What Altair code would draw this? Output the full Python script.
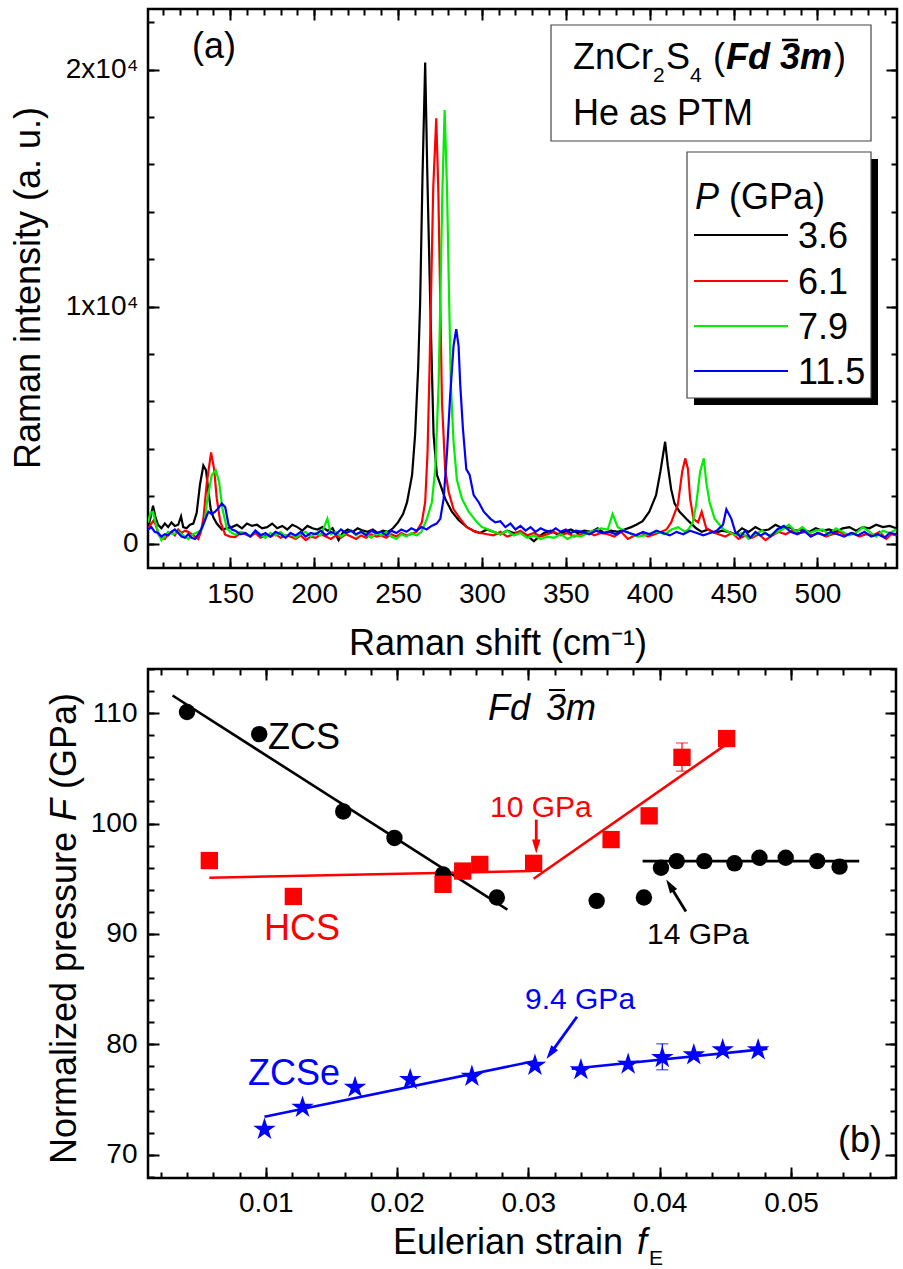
import altair as alt
import pandas as pd

FONT = "Liberation Sans"

# ---------------- panel (a): Raman spectra ----------------
P_LABELS = ["3.6", "6.1", "7.9", "11.5"]
P_COLORS = ["#000000", "#ff0000", "#00ee00", "#0000ff"]

spec_36 = [(101, 700), (102.5, 1100), (104, 1600), (105.5, 1100), (107, 800), (109, 650), (111, 850),
           (113, 700), (115, 900), (117, 750), (119, 800), (120.7, 1150), (122, 700), (124, 650),
           (126, 800), (128, 850), (130, 1300), (132, 2500), (134, 3300), (135.6, 3100), (137, 2200),
           (138.4, 1450), (140, 1100), (142, 850), (145, 600), (148, 650), (151, 700), (154, 800),
           (157, 650), (160, 850), (163, 750), (166, 800), (169, 650), (172, 700), (175, 850),
           (178, 650), (181, 750), (184, 600), (187, 800), (190, 700), (193, 550), (196, 750),
           (199, 650), (202, 600), (205, 700), (208, 550), (211, 650), (214.6, 150), (217, 450),
           (220, 600), (223, 500), (226, 650), (229, 550), (232, 500), (235, 600), (238, 450),
           (241, 550), (244, 500), (247, 650), (250, 900), (253, 1250), (255.4, 1750), (258.4, 2900),
           (260.2, 4600), (262, 7400), (263.2, 10200), (264.6, 15500), (266.2, 20300), (267.5, 15500),
           (269.2, 10200), (271.2, 4600), (273.2, 2900), (275.2, 2500), (278.1, 1900), (282.1, 1350),
           (286.1, 1000), (291, 700), (295, 550), (299, 450), (303, 600), (307, 500), (311, 400),
           (315, 550), (319, 450), (323, 500), (327, 350), (331, 100), (334, 300), (337, 450),
           (341, 550), (345, 400), (349, 500), (353, 600), (357, 450), (361, 550), (365, 500),
           (369, 650), (373, 450), (377, 550), (381, 500), (385, 600), (389, 700), (392, 800),
           (395.8, 950), (399.8, 1350), (403.8, 2050), (406.4, 3050), (409.2, 4300), (410.8, 3300),
           (412.8, 2300), (414.8, 1700), (417.8, 1350), (421.8, 1050), (424, 900), (427.7, 650),
           (431, 500), (435, 600), (439, 450), (443, 550), (447, 500), (451, 400), (455, 650),
           (459, 500), (463, 700), (467, 550), (471, 600), (475, 800), (479, 650), (483, 700),
           (487, 550), (491, 600), (495, 500), (499, 650), (503, 550), (507, 600), (511, 500),
           (515, 650), (519, 700), (523, 550), (527, 700), (531, 650), (535, 800), (539, 700),
           (543, 750), (547, 650)]

spec_61 = [(101, 600), (102.5, 800), (104.5, 1000), (106, 700), (107.5, 350), (109, 250), (111, 200),
           (113, 400), (115, 500), (117, 350), (119, 600), (121, 450), (123, 550), (125, 500),
           (127, 400), (129, 300), (131, 200), (132.5, 500), (134, 1050), (136.1, 2600), (138.6, 3850),
           (140.4, 3150), (142, 1900), (144, 950), (147, 380), (150, 300), (153, 280), (156, 450),
           (159, 400), (162, 300), (165, 450), (168, 250), (171, 350), (174, 300), (177, 400),
           (180, 250), (183, 350), (186, 300), (189, 200), (192, 350), (195, 150), (198, 300),
           (201, 250), (204, 400), (207, 300), (210, 200), (213, 350), (216, 250), (219, 400),
           (222, 300), (225, 200), (228, 350), (231, 250), (234, 400), (237, 300), (240, 350),
           (243, 250), (246, 400), (249, 300), (252, 450), (255, 350), (258, 400), (261, 500),
           (264.2, 900), (266.2, 1750), (267.6, 3850), (268.8, 7400), (269.6, 10200), (271, 15000),
           (272.8, 17950), (274, 15000), (275.2, 10200), (276.2, 6000), (278.1, 3150), (280.1, 2200),
           (283.1, 1450), (287.1, 1050), (291, 700), (293.1, 620), (296, 500), (299.1, 450),
           (303, 400), (307, 350), (311, 500), (315, 300), (319, 400), (323, 550), (327, 350),
           (331, 450), (335, 300), (339, 400), (343, 500), (347, 350), (351, 450), (355, 300),
           (359, 400), (363, 500), (367, 350), (371, 450), (375, 400), (379, 300), (383, 500),
           (387, 200), (391, 350), (395, 450), (399, 300), (403, 400), (407, 500), (410, 600),
           (412.8, 900), (416.8, 1650), (419.4, 3050), (421.2, 3600), (422.8, 3150), (424.1, 1900),
           (426.1, 1050), (428.8, 900), (431, 1350), (433.7, 650), (437, 500), (441, 400),
           (445, 300), (449, 450), (453, 200), (457, 350), (461, 250), (465, 400), (469, 150),
           (473, 350), (477, 500), (481, 400), (485, 550), (489, 450), (493, 500), (497, 350),
           (501, 450), (505, 300), (509, 400), (513, 500), (517, 350), (521, 450), (525, 300),
           (529, 400), (533, 350), (537, 500), (541, 200), (544, 400), (547, 350)]

spec_79 = [(101, 900), (102.5, 1300), (104, 1350), (105.5, 900), (107, 500), (109, 150), (111, 300),
           (113, 500), (116, 400), (119, 500), (122, 350), (125, 200), (128, 400), (131, 500),
           (133, 600), (135, 1000), (136.1, 1750), (138, 2500), (139, 2900), (141.4, 3100),
           (143.4, 2600), (145.4, 1450), (148, 650), (150, 500), (153, 380), (156, 500), (159, 450),
           (162, 300), (165, 550), (168, 400), (171, 250), (174, 450), (177, 350), (180, 500),
           (183, 300), (186, 450), (189, 250), (192, 400), (195, 500), (198, 300), (201, 450),
           (204, 350), (207.9, 1050), (210, 400), (213, 500), (216, 300), (219, 450), (222, 550),
           (225, 350), (228, 500), (231, 400), (234, 250), (237, 450), (240, 350), (243, 500),
           (246, 300), (249, 200), (252, 400), (255, 300), (258, 450), (261, 350), (264, 500),
           (267.2, 1050), (270.2, 1750), (272.2, 3150), (274.2, 6700), (275.2, 10200), (276.5, 15000),
           (277.8, 18300), (279.2, 15000), (280.5, 10200), (281.5, 6700), (283.1, 4300), (285.1, 2700),
           (288.1, 1900), (292.1, 1350), (297.1, 900), (300, 700), (303.1, 620), (307, 500),
           (311, 400), (315, 550), (319, 350), (323, 450), (327, 250), (331, 350), (335, 200),
           (339, 300), (343, 250), (347, 400), (351, 200), (355, 350), (359, 300), (363, 450),
           (367, 550), (371, 650), (375, 600), (377.9, 1250), (381, 700), (385, 550), (389, 400),
           (393, 300), (397, 350), (401, 450), (405, 500), (409, 400), (413, 600), (417, 700),
           (421, 500), (423, 600), (425.7, 900), (427.7, 1650), (430.1, 3050), (432.3, 3600),
           (433.7, 2600), (435.7, 1750), (438.7, 1050), (443.7, 620), (447, 500), (451, 350),
           (455, 450), (459, 200), (463, 400), (467, 550), (471, 350), (475, 450), (479, 600),
           (483, 800), (487, 500), (491, 700), (495, 450), (499, 550), (503, 600), (507, 400),
           (511, 650), (515, 500), (519, 350), (523, 450), (527, 700), (531, 500), (535, 300),
           (539, 550), (543, 450), (547, 600)]

spec_115 = [(101, 600), (103, 700), (105, 500), (107, 450), (109, 300), (111, 400), (113, 350),
            (115, 500), (117, 600), (119, 450), (121, 300), (123, 250), (125, 400), (127, 250),
            (129, 200), (131, 400), (133, 650), (135, 1000), (137, 1350), (139, 1250), (141, 1350),
            (143, 1500), (145, 1700), (147, 1550), (149, 800), (151, 600), (153, 550), (156, 400),
            (159, 450), (162, 300), (165, 550), (168, 350), (171, 450), (174, 300), (177, 500),
            (180, 400), (183, 250), (186, 450), (189, 350), (192, 500), (195, 300), (198, 450),
            (201, 400), (204, 550), (207, 350), (210, 500), (213, 400), (216, 600), (219, 450),
            (222, 550), (225, 400), (228, 500), (231, 350), (234, 550), (237, 450), (240, 500),
            (243, 350), (246, 550), (249, 450), (252, 600), (255, 500), (258, 650), (261, 550),
            (264, 700), (267, 600), (270, 750), (273, 850), (275.2, 1050), (277.2, 1900),
            (279.2, 3850), (281.1, 6250), (283.1, 8350), (284.7, 9050), (286.1, 8350), (287.1, 6700),
            (288.7, 4850), (290.7, 3150), (292.7, 2900), (295.1, 2050), (298.1, 1750), (301.1, 1350),
            (305.1, 1050), (308, 900), (311, 950), (314, 700), (317, 850), (320, 600), (323, 750),
            (326, 550), (329, 700), (332, 500), (335, 650), (338, 550), (341, 500), (344, 650),
            (347, 500), (350, 600), (353, 450), (356, 550), (360, 500), (364, 400), (368, 550),
            (372, 450), (376, 500), (380, 400), (384, 550), (388, 450), (392, 350), (396, 500),
            (400, 400), (404, 550), (408, 450), (412, 350), (416, 500), (420, 400), (424, 550),
            (428, 450), (432, 350), (436, 450), (440, 550), (443.7, 800), (445.7, 1450), (448.7, 1050),
            (451, 500), (454, 300), (457, 550), (460, 250), (463, 500), (466, 350), (469, 450),
            (472, 300), (476, 600), (480, 750), (484, 500), (488, 400), (492, 550), (496, 300),
            (500, 450), (504, 350), (508, 500), (512, 400), (516, 300), (520, 450), (524, 350),
            (528, 500), (532, 300), (536, 400), (540, 250), (543, 450), (547, 400)]

TOP_X_MAJOR = [150, 200, 250, 300, 350, 400, 450, 500]
TOP_X_MINOR = list(range(110, 550, 10))
TOP_Y_MAJOR = [0, 10000, 20000]
TOP_Y_MINOR = list(range(0, 22001, 2000))

# ---------------- panel (b): normalized pressure vs Eulerian strain ----------------
ZCS_f = [0.0040, 0.0095, 0.0159, 0.0198, 0.0235, 0.0276, 0.0352, 0.0388, 0.0401, 0.0413, 0.0434,
         0.0457, 0.0476, 0.0496, 0.0520, 0.0537]
ZCS_F = [110.1, 108.1, 101.1, 98.7, 95.4, 93.3, 93.0, 93.3, 96.0, 96.6, 96.6, 96.4, 96.9, 96.9, 96.6, 96.1]

HCS_f = [0.0057, 0.0121, 0.0235, 0.0250, 0.0263, 0.0304, 0.0363, 0.0392, 0.0417, 0.0451]
HCS_F = [96.65, 93.4, 94.5, 95.7, 96.3, 96.4, 98.55, 100.7, 106.0, 107.7]

ZCSE_f = [0.0099, 0.0128, 0.0168, 0.0210, 0.0257, 0.0305, 0.0340, 0.0376, 0.0402, 0.0426, 0.0448, 0.0475]
ZCSE_F = [72.3, 74.3, 76.1, 76.8, 77.1, 78.1, 77.7, 78.2, 78.8, 79.05, 79.5, 79.5]

# linear fits (segment endpoints)
FIT_SAMPLE = ["ZCS", "ZCS", "ZCS", "ZCS", "HCS", "HCS", "HCS", "HCS", "ZCSe", "ZCSe", "ZCSe", "ZCSe"]
FIT_SEG = ["z1", "z1", "z2", "z2", "h1", "h1", "h2", "h2", "s1", "s1", "s2", "s2"]
FIT_f = [0.0029, 0.0284, 0.0387, 0.0552, 0.0057, 0.0303, 0.0304, 0.0451, 0.0099, 0.0305, 0.0333, 0.0482]
FIT_F = [111.6, 92.2, 96.6, 96.6, 95.1, 95.7, 95.0, 107.2, 73.45, 78.5, 77.8, 79.6]

# error bars
ERR_SAMPLE = ["HCS", "ZCSe"]
ERR_f = [0.0417, 0.0402]
ERR_LO = [104.75, 77.7]
ERR_HI = [107.3, 80.05]

# arrows: start point -> head
ARR_SAMPLE = ["HCS", "ZCS", "ZCSe"]
ARR_f0 = [0.0306, 0.0420, 0.0337]
ARR_F0 = [100.36, 92.04, 82.5]
ARR_f1 = [0.0306, 0.04078, 0.03169]
ARR_F1 = [97.92, 94.40, 79.19]
ARR_ANGLE = [180, 328, 216]

SAMPLES = ["ZCS", "HCS", "ZCSe"]
SAMPLE_COLORS = ["#000000", "#ff0000", "#0000ff"]

BOT_X_MAJOR = [0.01, 0.02, 0.03, 0.04, 0.05]
BOT_X_MINOR = [round(0.002 * i, 3) for i in range(1, 29)]
BOT_Y_MAJOR = [70, 80, 90, 100, 110]
BOT_Y_MINOR = list(range(68, 115, 2))

STAR = ("M0,-1L0.223,-0.307L0.951,-0.309L0.361,0.117L0.588,0.809L0,0.38L-0.588,0.809"
        "L-0.361,0.117L-0.951,-0.309L-0.223,-0.307Z")
HEAD = "M0,-1L0.6,1L-0.6,1Z"

one = pd.DataFrame({"k": [0]})


def axis_layers(xs, ys, W, H, xmaj, xmin, ymaj, ymin, xlab_kw, ylab_kw, xmid, ymid):
    dummy = pd.DataFrame({"x": [xmid], "y": [ymid]})
    common = dict(grid=False, domain=False, title=None)

    def tick_ax(orient, offset, values, size):
        return alt.Axis(orient=orient, offset=offset, values=values, labels=False, ticks=True,
                        tickSize=size, tickWidth=2, tickColor="black", **common)

    lab_common = dict(labels=True, ticks=False, tickSize=0, labelFont=FONT, labelFontSize=28,
                      labelColor="black", labelFlush=False, labelOverlap=False, labelBound=False)
    lab_x = alt.Axis(orient="bottom", values=xmaj, **lab_common, **xlab_kw, **common)
    lab_y = alt.Axis(orient="left", values=ymaj, **lab_common, **ylab_kw, **common)
    pairs = [
        (lab_x, lab_y),
        (tick_ax("top", -H, xmaj, 11), tick_ax("right", -W, ymaj, 11)),
        (tick_ax("top", -H, xmin, 6), tick_ax("right", -W, ymin, 6)),
        (tick_ax("bottom", -H, xmaj, 11), tick_ax("left", -W, ymaj, 11)),
        (tick_ax("bottom", -H, xmin, 6), tick_ax("left", -W, ymin, 6)),
    ]
    return [alt.Chart(dummy).mark_point(opacity=0).encode(
        x=alt.X("x:Q", scale=xs, axis=ax), y=alt.Y("y:Q", scale=ys, axis=ay)) for ax, ay in pairs]


def txt(s, x, y, size=36, color="black", italic=False, bold=False, align="left", angle=0):
    kw = dict(text=s, font=FONT, fontSize=size, fill=color, align=align, baseline="alphabetic")
    if italic:
        kw["fontStyle"] = "italic"
    if bold:
        kw["fontWeight"] = "bold"
    if angle:
        kw["angle"] = angle
    return alt.Chart(one).mark_text(**kw).encode(x=alt.value(x), y=alt.value(y))


def box(x1, x2, y1, y2, fill="white", stroke=None, sw=1.2):
    kw = dict(fill=fill)
    if stroke:
        kw.update(stroke=stroke, strokeWidth=sw)
    return alt.Chart(one).mark_rect(**kw).encode(
        x=alt.value(x1), x2=alt.value(x2), y=alt.value(y1), y2=alt.value(y2))


def seg(x1, x2, y1, y2, color="black", sw=2):
    return alt.Chart(one).mark_rule(color=color, strokeWidth=sw).encode(
        x=alt.value(x1), x2=alt.value(x2), y=alt.value(y1), y2=alt.value(y2))


# ---------------- build panel (a) ----------------
W1, H1 = 749, 559
xs1 = alt.Scale(domain=[101, 547.4], nice=False, zero=False)
ys1 = alt.Scale(domain=[-1025, 22560], nice=False, zero=False)
pscale = alt.Scale(domain=P_LABELS, range=P_COLORS)

layers_a = axis_layers(
    xs1, ys1, W1, H1, TOP_X_MAJOR, TOP_X_MINOR, TOP_Y_MAJOR, TOP_Y_MINOR,
    dict(labelPadding=12, format="d"),
    dict(labelPadding=10,
         labelExpr="datum.value == 0 ? '0' : format(datum.value / 10000, 'd') + 'x10\u2074'"),
    300, 10000)

for pairs, lab in zip([spec_36, spec_61, spec_79, spec_115], P_LABELS):
    df = pd.DataFrame(pairs, columns=["shift", "I"])
    df["P"] = lab
    layers_a.append(alt.Chart(df).mark_line(strokeWidth=2.2, clip=True).encode(
        x=alt.X("shift:Q", scale=xs1, axis=None),
        y=alt.Y("I:Q", scale=ys1, axis=None),
        color=alt.Color("P:N", scale=pscale, legend=None)))

layers_a += [
    txt("(a)", 44, 49),
    # info box
    box(403, 723, 16, 132, stroke="#444"),
    txt("ZnCr", 425, 60),
    txt("2", 505, 73, size=21),
    txt("S", 518, 60),
    txt("4", 542, 73, size=21),
    txt("(", 565, 60),
    txt("Fd 3m", 578, 60, bold=True, italic=True),
    seg(634, 650, 31, 31, sw=2.5),
    txt(")", 686, 60),
    txt("He as PTM", 425, 116),
    # legend with shadow
    box(546, 730, 150, 396, fill="black"),
    box(539, 723, 143, 389, stroke="#444"),
    txt("P", 547, 200, italic=True),
    txt("(GPa)", 581, 200),
]
for i, (lab, col) in enumerate(zip(P_LABELS, P_COLORS)):
    ly = [226, 272, 317, 362][i]
    layers_a.append(seg(546, 640, ly, ly, color=col, sw=2))
    layers_a.append(txt(lab, 650, ly + 13))

layers_a += [
    txt("Raman shift (cm\u207b\u00b9)", 350, 646, align="center"),
    txt("Raman intensity (a. u.)", -108, 279, align="center", angle=270),
]

top = alt.layer(*layers_a).properties(width=W1, height=H1).resolve_axis(x="independent", y="independent")

# ---------------- build panel (b) ----------------
W2, H2 = 748, 509
xs2 = alt.Scale(domain=[0.00103, 0.058], nice=False, zero=False)
ys2 = alt.Scale(domain=[67.9, 114], nice=False, zero=False)
sscale = alt.Scale(domain=SAMPLES, range=SAMPLE_COLORS)

layers_b = axis_layers(
    xs2, ys2, W2, H2, BOT_X_MAJOR, BOT_X_MINOR, BOT_Y_MAJOR, BOT_Y_MINOR,
    dict(labelPadding=11, format=".2f"),
    dict(labelPadding=11, format="d"),
    0.03, 90)

fit_df = pd.DataFrame({"f": FIT_f, "F": FIT_F, "seg": FIT_SEG, "sample": FIT_SAMPLE})
layers_b.append(alt.Chart(fit_df).mark_line(strokeWidth=2.6).encode(
    x=alt.X("f:Q", scale=xs2, axis=None), y=alt.Y("F:Q", scale=ys2, axis=None),
    detail="seg:N", color=alt.Color("sample:N", scale=sscale, legend=None)))

err_df = pd.DataFrame({"f": ERR_f, "lo": ERR_LO, "hi": ERR_HI, "sample": ERR_SAMPLE})
layers_b.append(alt.Chart(err_df).mark_rule(strokeWidth=1.2).encode(
    x=alt.X("f:Q", scale=xs2, axis=None), y=alt.Y("lo:Q", scale=ys2, axis=None), y2="hi:Q",
    color=alt.Color("sample:N", scale=sscale, legend=None)))
for col in ["lo", "hi"]:
    layers_b.append(alt.Chart(err_df).mark_tick(orient="horizontal", size=12, thickness=1.2).encode(
        x=alt.X("f:Q", scale=xs2, axis=None), y=alt.Y(f"{col}:Q", scale=ys2, axis=None),
        color=alt.Color("sample:N", scale=sscale, legend=None)))

zcs_df = pd.DataFrame({"f": ZCS_f, "F": ZCS_F, "sample": "ZCS"})
hcs_df = pd.DataFrame({"f": HCS_f, "F": HCS_F, "sample": "HCS"})
zcse_df = pd.DataFrame({"f": ZCSE_f, "F": ZCSE_F, "sample": "ZCSe"})
for d, shape, size in [(zcs_df, "circle", 270), (hcs_df, "square", 300), (zcse_df, STAR, 560)]:
    layers_b.append(alt.Chart(d).mark_point(shape=shape, filled=True, size=size, opacity=1).encode(
        x=alt.X("f:Q", scale=xs2, axis=None), y=alt.Y("F:Q", scale=ys2, axis=None),
        color=alt.Color("sample:N", scale=sscale, legend=None)))

arr_df = pd.DataFrame({"f0": ARR_f0, "F0": ARR_F0, "f1": ARR_f1, "F1": ARR_F1,
                       "ang": ARR_ANGLE, "sample": ARR_SAMPLE})
layers_b.append(alt.Chart(arr_df).mark_rule(strokeWidth=2.8).encode(
    x=alt.X("f0:Q", scale=xs2, axis=None), y=alt.Y("F0:Q", scale=ys2, axis=None),
    x2="f1:Q", y2="F1:Q", color=alt.Color("sample:N", scale=sscale, legend=None)))
layers_b.append(alt.Chart(arr_df).mark_point(shape=HEAD, filled=True, size=196, opacity=1).encode(
    x=alt.X("f1:Q", scale=xs2, axis=None), y=alt.Y("F1:Q", scale=ys2, axis=None),
    angle=alt.Angle("ang:Q", scale=None),
    color=alt.Color("sample:N", scale=sscale, legend=None)))

layers_b += [
    txt("ZCS", 120, 80),
    txt("HCS", 116, 271, color="#ff0000"),
    txt("Fd", 340, 51, italic=True),
    txt("3m", 398, 51, italic=True),
    seg(401, 417, 21, 21, sw=2),
    txt("10 GPa", 342, 148, size=30, color="#ff0000"),
    txt("14 GPa", 499, 275, size=30),
    txt("9.4 GPa", 377, 340, size=30, color="#0000ff"),
    txt("ZCSe", 100, 416, color="#0000ff"),
    txt("(b)", 690, 483),
    # axis titles
    txt("Eulerian strain", 245, 585),
    txt("f", 489, 585, italic=True),
    txt("E", 501, 596, size=21),
    txt("Normalized pressure", -72, 495, angle=270),
    txt("F", -72, 152, italic=True, angle=270),
    txt("(GPa)", -72, 120, angle=270),
]

bottom = alt.layer(*layers_b).properties(width=W2, height=H2).resolve_axis(x="independent", y="independent")

chart = alt.vconcat(top, bottom, spacing=101, bounds="flush").resolve_scale(
    color="independent"
).configure_view(
    stroke="black", strokeWidth=2.5
).properties(
    padding={"left": 9, "top": 6, "right": 0, "bottom": 0},
    background="white",
)

chart.save("out.html", embed_options={"renderer": "svg", "actions": False})
